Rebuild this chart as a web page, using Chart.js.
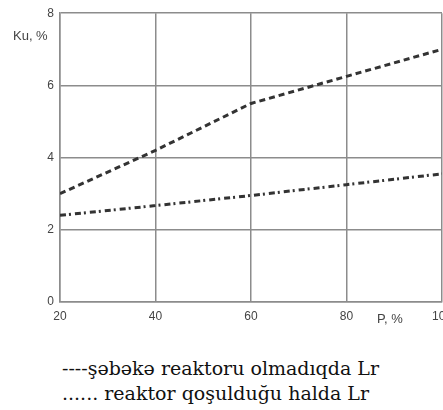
<!DOCTYPE html>
<html>
<head>
<meta charset="utf-8">
<script src="https://cdn.jsdelivr.net/npm/chart.js@4"></script>
<style>
    body { margin: 0; width: 443px; height: 410px; overflow: hidden; background: #fff; position: relative; }
    #wrap { position: absolute; left: 0; top: 0; width: 460px; height: 330px; }
    .lbl { position: absolute; font-family: "Liberation Sans", Arial, sans-serif; font-size: 13px; line-height: 13px; color: #444; white-space: nowrap; }
    .leg { position: absolute; left: 62px; font-family: "DejaVu Serif", "Liberation Serif", serif; font-size: 19px; line-height: 19px; color: #111; white-space: nowrap; }
</style>
</head>
<body>
<div id="wrap"><canvas id="kuChart" width="460" height="330"></canvas></div>
<div class="lbl" style="left:13px; top:29px;">Ku, %</div>
<div class="lbl" style="left:377px; top:312px;">P, %</div>
<div class="leg" style="top:359px;">----şəbəkə reaktoru olmadıqda Lr</div>
<div class="leg" style="top:384px;">...... reaktor qoşulduğu halda Lr</div>

<script>
// P, % nöqtələri
const pValues = [20, 40, 60, 80, 100];
// reaktorsuz
const kuNoReactor = [3.0, 4.2, 5.5, 6.25, 7.0];
// reaktor qoşulduqda
const kuWithReactor = [2.4, 2.67, 2.95, 3.25, 3.55];
const yTicks = [0, 2, 4, 6, 8];

const gridColor = '#8c8c8c';

function toPoints(values) {
    return pValues.map((p, i) => ({ x: p, y: values[i] }));
}

const ctx = document.getElementById('kuChart').getContext('2d');
const kuChart = new Chart(ctx, {
    type: 'line',
    data: {
        datasets: [{
            label: 'şəbəkə reaktoru olmadıqda Lr',
            data: toPoints(kuNoReactor),
            borderColor: '#333',
            borderWidth: 3,
            borderDash: [6, 4],
            pointRadius: 0,
            tension: 0
        }, {
            label: 'reaktor qoşulduğu halda Lr',
            data: toPoints(kuWithReactor),
            borderColor: '#333',
            borderWidth: 3,
            borderDash: [6, 3, 2, 4],
            pointRadius: 0,
            tension: 0
        }]
    },
    options: {
        responsive: false,
        animation: false,
        layout: { padding: { top: 5, right: 18, left: 0, bottom: 0 } },
        plugins: {
            legend: { display: false },
            tooltip: { enabled: false }
        },
        scales: {
            x: {
                type: 'linear',
                min: pValues[0],
                max: pValues[pValues.length - 1],
                afterBuildTicks: scale => { scale.ticks = pValues.map(v => ({ value: v })); },
                afterFit: scale => { scale.height = 28; },
                grid: { color: gridColor, lineWidth: 1.5, drawTicks: false },
                border: { color: gridColor, width: 1.5 },
                ticks: {
                    padding: 7,
                    color: '#444',
                    font: { family: '"Liberation Sans", Arial, sans-serif', size: 12 }
                }
            },
            y: {
                min: yTicks[0],
                max: yTicks[yTicks.length - 1],
                afterBuildTicks: scale => { scale.ticks = yTicks.map(v => ({ value: v })); },
                afterFit: scale => { scale.width = 60; },
                grid: { color: gridColor, lineWidth: 1.5, drawTicks: false },
                border: { color: gridColor, width: 1.5 },
                ticks: {
                    padding: 6,
                    color: '#444',
                    font: { family: '"Liberation Sans", Arial, sans-serif', size: 12 }
                }
            }
        }
    }
});
</script>
</body>
</html>
